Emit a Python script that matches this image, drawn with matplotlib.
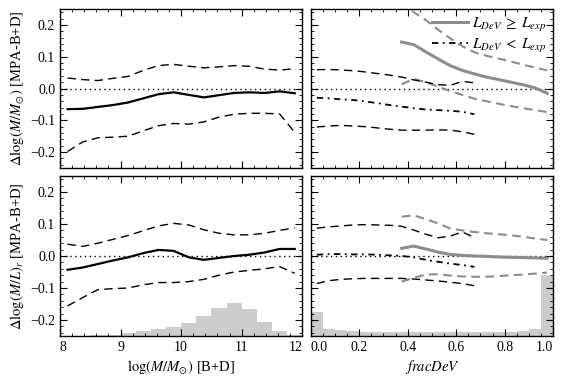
import numpy as np
import matplotlib
matplotlib.use("Agg")
import matplotlib.pyplot as plt
from matplotlib.ticker import MultipleLocator, FixedLocator

plt.rcParams['font.family'] = ['Liberation Serif', 'DejaVu Serif']
plt.rcParams['mathtext.fontset'] = 'stix'
plt.rcParams['axes.linewidth'] = 1.0

# ---------------- data ----------------
# left panels: stellar-mass bins (centres)
mass = [8.125, 8.375, 8.625, 8.875, 9.125, 9.375, 9.625, 9.875,
        10.125, 10.375, 10.625, 10.875, 11.125, 11.375, 11.625, 11.875]

dm_med = [-0.065, -0.064, -0.058, -0.052, -0.044, -0.031, -0.018, -0.012,
          -0.020, -0.028, -0.021, -0.014, -0.012, -0.014, -0.009, -0.015]
dm_hi = [0.033, 0.028, 0.025, 0.032, 0.038, 0.057, 0.072, 0.076,
         0.070, 0.065, 0.068, 0.072, 0.070, 0.061, 0.058, 0.062]
dm_lo = [-0.198, -0.168, -0.155, -0.153, -0.150, -0.133, -0.117, -0.110,
         -0.112, -0.105, -0.090, -0.081, -0.078, -0.078, -0.080, -0.138]

dml_med = [-0.043, -0.036, -0.025, -0.014, -0.004, 0.009, 0.019, 0.016,
           -0.004, -0.012, -0.006, 0.000, 0.004, 0.011, 0.022, 0.022]
dml_hi = [0.037, 0.030, 0.040, 0.052, 0.064, 0.079, 0.094, 0.102,
          0.097, 0.082, 0.071, 0.066, 0.066, 0.071, 0.080, 0.088]
dml_lo = [-0.156, -0.130, -0.105, -0.102, -0.100, -0.090, -0.083, -0.083,
          -0.080, -0.073, -0.060, -0.050, -0.045, -0.040, -0.033, -0.054]

# histogram of stellar mass (bins 8.0 .. 12.0 step 0.25), relative height
mass_edges = [8.0, 8.25, 8.5, 8.75, 9.0, 9.25, 9.5, 9.75, 10.0, 10.25,
              10.5, 10.75, 11.0, 11.25, 11.5, 11.75, 12.0]
mass_hist = [0.000, 0.001, 0.002, 0.004, 0.010, 0.016, 0.021, 0.029,
             0.042, 0.063, 0.088, 0.104, 0.083, 0.044, 0.017, 0.003]

# right panels: fracDeV bins
frac_lo = [0.025, 0.075, 0.125, 0.175, 0.225, 0.275, 0.325, 0.375,
           0.425, 0.475, 0.525, 0.575, 0.625, 0.675]   # L_DeV < L_exp
frac_hi = [0.375, 0.425, 0.475, 0.525, 0.575, 0.625, 0.675, 0.725,
           0.775, 0.825, 0.875, 0.925, 0.975]           # L_DeV >= L_exp

# top-right: Delta log M
tr_hi_med = [0.146, 0.138, 0.115, 0.093, 0.072, 0.057, 0.046, 0.036,
             0.028, 0.020, 0.012, 0.002, -0.015]
tr_hi_up = [0.275, 0.240, 0.215, 0.185, 0.158, 0.133, 0.114, 0.103,
            0.094, 0.085, 0.075, 0.066, 0.057]
tr_hi_dn = [0.013, 0.030, 0.020, 0.006, -0.008, -0.020, -0.032, -0.040,
            -0.048, -0.055, -0.062, -0.068, -0.074]
tr_lo_med = [-0.029, -0.031, -0.034, -0.036, -0.041, -0.046, -0.052, -0.057,
             -0.062, -0.066, -0.068, -0.070, -0.073, -0.081]
tr_lo_up = [0.059, 0.060, 0.058, 0.056, 0.052, 0.047, 0.042, 0.036,
            0.027, 0.020, 0.012, 0.010, 0.022, 0.018]
tr_lo_dn = [-0.121, -0.118, -0.116, -0.118, -0.120, -0.124, -0.128, -0.131,
            -0.131, -0.131, -0.130, -0.131, -0.136, -0.144]

# bottom-right: Delta log M/L
br_hi_med = [0.024, 0.031, 0.022, 0.012, 0.005, 0.002, 0.000, -0.001,
             -0.003, -0.004, -0.005, -0.006, -0.007]
br_hi_up = [0.123, 0.127, 0.115, 0.102, 0.086, 0.080, 0.075, 0.071,
            0.068, 0.065, 0.060, 0.055, 0.050]
br_hi_dn = [-0.080, -0.068, -0.058, -0.057, -0.061, -0.064, -0.065, -0.065,
            -0.063, -0.060, -0.058, -0.055, -0.052]
br_lo_med = [0.004, 0.006, 0.006, 0.005, 0.005, 0.004, 0.002, 0.000,
             -0.004, -0.012, -0.018, -0.024, -0.028, -0.034]
br_lo_up = [0.087, 0.091, 0.094, 0.097, 0.098, 0.097, 0.096, 0.093,
            0.081, 0.068, 0.057, 0.062, 0.075, 0.058]
br_lo_dn = [-0.086, -0.077, -0.073, -0.071, -0.070, -0.070, -0.070, -0.070,
            -0.072, -0.075, -0.078, -0.082, -0.086, -0.093]

# histogram of fracDeV (bins 0..1 step 0.05), relative height
frac_edges = [round(0.05 * i, 2) for i in range(21)]
frac_hist = [0.076, 0.021, 0.019, 0.016, 0.014, 0.014, 0.013, 0.013, 0.013,
             0.013, 0.013, 0.013, 0.013, 0.013, 0.013, 0.013, 0.014, 0.017,
             0.021, 0.023, 0.190]

legend_labels = [r'$L_{DeV}\;\geq\;L_{exp}$', r'$L_{DeV}\;<\;L_{exp}$']
ylabels = [r'$\Delta\log(M/M_{\odot})$ [MPA-B+D]', r'$\Delta\log(M/L)_r$ [MPA-B+D]']
xlabels = [r'$\log(M/M_{\odot})$ [B+D]', r'$fracDeV$']

# ---------------- figure ----------------
W, H = 563, 379
fig = plt.figure(figsize=(W / 100, H / 100), dpi=100)

def fx(p):
    return p / W

def fy(top, bot):
    return (1 - bot / H, (bot - top) / H)

lx0, lw_ = fx(60), fx(242.3)
rx0, rw_ = fx(310.8), fx(242.3)
tb, th = fy(9, 168)
bb, bh = fy(176, 336)

ax_tl = fig.add_axes([lx0, tb, lw_, th])
ax_tr = fig.add_axes([rx0, tb, rw_, th])
ax_bl = fig.add_axes([lx0, bb, lw_, bh])
ax_br = fig.add_axes([rx0, bb, rw_, bh])

BLACK = 'black'
GRAY = '#8c8c8c'
HISTC = '#cccccc'
dash_k = (0, (6.0, 3.8))
dash_g = (0, (4.2, 2.6))
dashdot = (0, (3.5, 2.5, 1.0, 2.5))

TICK_FS = 10
LAB_FS = 10.5

def style(ax, left):
    ax.set_ylim(-0.25, 0.25)
    ax.axhline(0, color='black', ls=(0, (1, 2.5)), lw=1.0, zorder=1)
    ax.tick_params(which='both', direction='in', top=True, right=True,
                   labelsize=TICK_FS)
    ax.tick_params(which='major', length=5, width=0.8)
    ax.tick_params(which='minor', length=2.5, width=0.6)
    ax.yaxis.set_major_locator(FixedLocator([-0.2, -0.1, 0.0, 0.1, 0.2]))
    ax.yaxis.set_minor_locator(MultipleLocator(0.02))
    if left:
        ax.set_xlim(8, 12)
        ax.xaxis.set_major_locator(FixedLocator([8, 9, 10, 11, 12]))
        ax.xaxis.set_minor_locator(MultipleLocator(0.2))
        ax.set_xticklabels(['8', '9', '10', '11', '12'])
        ax.set_yticklabels(['\u22120.2', '\u22120.1', '0.0', '0.1', '0.2'])
    else:
        ax.set_xlim(0, 1)
        ax.xaxis.set_major_locator(FixedLocator([0, 0.2, 0.4, 0.6, 0.8, 1.0]))
        ax.xaxis.set_minor_locator(MultipleLocator(0.05))
        ax.set_xticklabels(['0.0', '0.2', '0.4', '0.6', '0.8', '1.0'])
        ax.tick_params(labelleft=False)

for ax in (ax_tl, ax_bl):
    style(ax, True)
for ax in (ax_tr, ax_br):
    style(ax, False)
for ax in (ax_tl, ax_tr):
    ax.tick_params(labelbottom=False)

# top-left
ax_tl.plot(mass, dm_med, color=BLACK, lw=1.6, zorder=3)
ax_tl.plot(mass, dm_hi, color=BLACK, lw=1.0, ls=dash_k, zorder=3)
ax_tl.plot(mass, dm_lo, color=BLACK, lw=1.0, ls=dash_k, zorder=3)

# bottom-left
ax_bl.bar(mass_edges[:-1], mass_hist, width=0.25, bottom=-0.25, align='edge',
          color=HISTC, edgecolor='none', zorder=0)
ax_bl.plot(mass, dml_med, color=BLACK, lw=1.6, zorder=3)
ax_bl.plot(mass, dml_hi, color=BLACK, lw=1.0, ls=dash_k, zorder=3)
ax_bl.plot(mass, dml_lo, color=BLACK, lw=1.0, ls=dash_k, zorder=3)

# top-right
l1, = ax_tr.plot(frac_hi, tr_hi_med, color=GRAY, lw=2.2, zorder=3,
                 label=legend_labels[0])
ax_tr.plot(frac_hi, tr_hi_up, color=GRAY, lw=1.5, ls=dash_g, zorder=3)
ax_tr.plot(frac_hi, tr_hi_dn, color=GRAY, lw=1.5, ls=dash_g, zorder=3)
l2, = ax_tr.plot(frac_lo, tr_lo_med, color=BLACK, lw=1.3, ls=dashdot, zorder=3,
                 label=legend_labels[1])
ax_tr.plot(frac_lo, tr_lo_up, color=BLACK, lw=1.0, ls=dash_k, zorder=3)
ax_tr.plot(frac_lo, tr_lo_dn, color=BLACK, lw=1.0, ls=dash_k, zorder=3)
ax_tr.legend(handles=[l1, l2], loc='upper right', frameon=False, fontsize=11,
             handlelength=2.4, handletextpad=0.25, borderaxespad=0.05,
             labelspacing=0.2)

# bottom-right
ax_br.bar(frac_edges[:-1], frac_hist[:20], width=0.05, bottom=-0.25,
          align='edge', color=HISTC, edgecolor='none', zorder=0)
ax_br.bar(frac_edges[-2:-1], frac_hist[20:], width=0.05, bottom=-0.25,
          align='edge', color=HISTC, edgecolor='none', zorder=0)
ax_br.plot(frac_hi, br_hi_med, color=GRAY, lw=2.2, zorder=3)
ax_br.plot(frac_hi, br_hi_up, color=GRAY, lw=1.5, ls=dash_g, zorder=3)
ax_br.plot(frac_hi, br_hi_dn, color=GRAY, lw=1.5, ls=dash_g, zorder=3)
ax_br.plot(frac_lo, br_lo_med, color=BLACK, lw=1.3, ls=dashdot, zorder=3)
ax_br.plot(frac_lo, br_lo_up, color=BLACK, lw=1.0, ls=dash_k, zorder=3)
ax_br.plot(frac_lo, br_lo_dn, color=BLACK, lw=1.0, ls=dash_k, zorder=3)

ax_tl.set_ylabel(ylabels[0], fontsize=LAB_FS, labelpad=3)
ax_bl.set_ylabel(ylabels[1], fontsize=LAB_FS, labelpad=3)
ax_bl.set_xlabel(xlabels[0], fontsize=LAB_FS, labelpad=3)
ax_br.set_xlabel(xlabels[1], fontsize=LAB_FS, labelpad=3)

for ax in (ax_bl, ax_br):
    labs = ax.get_xticklabels()
    labs[0].set_horizontalalignment('left')
    labs[-1].set_horizontalalignment('right')

fig.savefig('out.png', dpi=100)
